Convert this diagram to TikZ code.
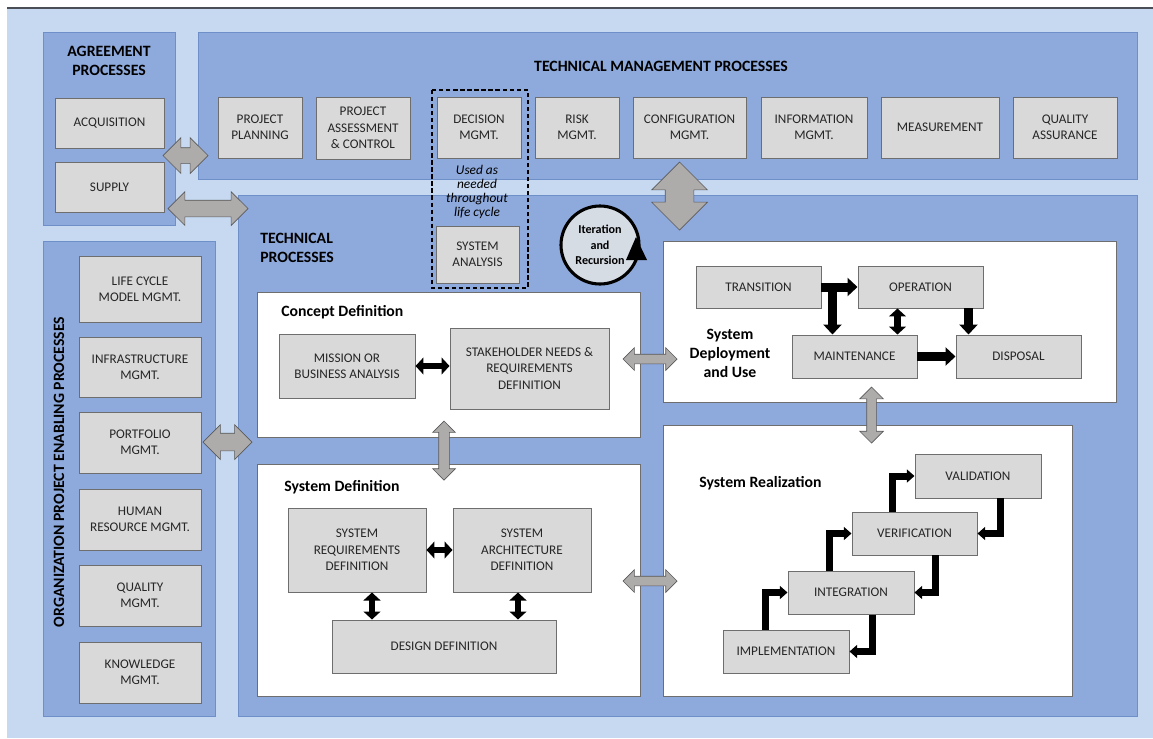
\documentclass[tikz,border=0pt]{standalone}
\usepackage{fontspec}
\setmainfont{Carlito}
\usetikzlibrary{shapes.arrows,arrows.meta}
\newdimen\pix \pix=0.025cm
\definecolor{bglight}{HTML}{C6D9F0}
\definecolor{panelblue}{HTML}{8EA9DB}
\definecolor{paneledge}{HTML}{6F8FC9}
\definecolor{boxgray}{HTML}{D9D9D9}
\definecolor{boxedge}{HTML}{6E6E6E}
\definecolor{arrowgray}{HTML}{AEABAB}
\definecolor{circlefill}{HTML}{D6DCE4}
\definecolor{topline}{HTML}{4A4F57}

\begin{document}
\begin{tikzpicture}[x=0.025cm, y=-0.025cm,
    gbox/.style={draw=boxedge, fill=boxgray, line width=0.7pt, align=center, inner sep=1pt,
        font=\fontsize{9.4}{11.7}\selectfont, text=black!85},
    panel/.style={draw=paneledge, fill=panelblue, line width=0.7pt},
    wpanel/.style={draw=boxedge, fill=white, line width=0.7pt},
    headtxt/.style={font=\fontsize{11.2}{13.5}\selectfont\bfseries, align=center, inner sep=0pt},
    garrow/.style={double arrow, draw=black!65, fill=arrowgray, line width=0.5pt, inner xsep=0pt,
        double arrow tip angle=90},
    barrow/.style={line width=0.225cm, -{Triangle[length=0.25cm,width=0.45cm]}},
    bdarrow/.style={line width=0.17cm, {Triangle[length=0.2cm,width=0.42cm]}-{Triangle[length=0.2cm,width=0.42cm]}},
    sarrow/.style={line width=0.175cm, line join=miter, -{Triangle[length=0.19cm,width=0.32cm]}}]
    \useasboundingbox (0,0) rectangle (1153,738);

    % background
    \fill[bglight] (7,8) rectangle (1153,738);
    \draw[topline, line width=1.4pt] (7,8) -- (1153,8);

    % process groups
    \draw[panel] (43,32) rectangle (175,225);
    \draw[panel] (198,32) rectangle (1137,179);
    \draw[panel] (43,241) rectangle (215,716);
    \draw[panel] (238,195) rectangle (1137,716);

    % Agreement processes
    \node[headtxt] (agrtitle) at (109,61) {AGREEMENT\\PROCESSES};
    \node[gbox, minimum width=109*\pix, minimum height=50*\pix] (acq) at (109.5,123) {ACQUISITION};
    \node[gbox, minimum width=109*\pix, minimum height=50*\pix] (supply) at (109.5,187) {SUPPLY};

    % Technical management processes
    \node[headtxt] (tmtitle) at (661,66) {TECHNICAL MANAGEMENT PROCESSES};
    \node[gbox, minimum width=84*\pix, minimum height=61*\pix] (plan) at (260,127.5) {PROJECT\\PLANNING};
    \node[gbox, minimum width=94*\pix, minimum height=62*\pix] (assess) at (363,128) {PROJECT\\ASSESSMENT\\\& CONTROL};
    \node[gbox, minimum width=84*\pix, minimum height=61*\pix] (decision) at (479,127.5) {DECISION\\MGMT.};
    \node[gbox, minimum width=84*\pix, minimum height=61*\pix] (risk) at (577,127.5) {RISK\\MGMT.};
    \node[gbox, minimum width=113*\pix, minimum height=61*\pix] (config) at (689.5,127.5) {CONFIGURATION\\MGMT.};
    \node[gbox, minimum width=106*\pix, minimum height=61*\pix] (info) at (814,127.5) {INFORMATION\\MGMT.};
    \node[gbox, minimum width=118*\pix, minimum height=61*\pix] (measure) at (940,127.5) {MEASUREMENT};
    \node[gbox, minimum width=104*\pix, minimum height=61*\pix] (qa) at (1065,127.5) {QUALITY\\ASSURANCE};

    % decision / analysis group
    \draw[dash pattern=on 3pt off 2pt, line width=0.8pt] (432,90) rectangle (528,288);
    \node[font=\fontsize{9.5}{9.8}\selectfont\itshape, align=center, inner sep=0pt] (usedtxt) at (477,192) {Used as\\needed\\throughout\\life cycle};
    \node[gbox, minimum width=83*\pix, minimum height=57*\pix] (sysan) at (477.5,254.5) {SYSTEM\\ANALYSIS};

    % Organization project enabling processes
    \node[headtxt, rotate=90] (orgtitle) at (59,472) {ORGANIZATION PROJECT ENABLING PROCESSES};
    \node[gbox, minimum width=122*\pix, minimum height=66*\pix] (lcm) at (140,289) {LIFE CYCLE\\MODEL MGMT.};
    \node[gbox, minimum width=122*\pix, minimum height=60*\pix] (infra) at (140,367) {INFRASTRUCTURE\\MGMT.};
    \node[gbox, minimum width=122*\pix, minimum height=61*\pix] (portf) at (140,442.5) {PORTFOLIO\\MGMT.};
    \node[gbox, minimum width=122*\pix, minimum height=61*\pix] (human) at (140,519.5) {HUMAN\\RESOURCE MGMT.};
    \node[gbox, minimum width=122*\pix, minimum height=61*\pix] (qualm) at (140,595.5) {QUALITY\\MGMT.};
    \node[gbox, minimum width=122*\pix, minimum height=61*\pix] (know) at (140,672.5) {KNOWLEDGE\\MGMT.};

    % Technical processes
    \node[headtxt, align=left, anchor=west] (tptitle) at (260,248) {TECHNICAL\\PROCESSES};
    \node[circle, draw=black, line width=2.2pt, fill=circlefill, minimum size=78*\pix, inner sep=0pt,
        align=center, font=\fontsize{8.6}{11}\selectfont\bfseries] (iter) at (600,245) {Iteration\\and\\Recursion};
    \fill (636,237) -- (647,260) -- (626,260) -- cycle;

    % Concept definition
    \draw[wpanel] (257,292) rectangle (640,437);
    \node[headtxt, anchor=west] (cdtitle) at (281,312) {Concept Definition};
    \node[gbox, minimum width=136*\pix, minimum height=64*\pix] (mission) at (347,366) {MISSION OR\\BUSINESS ANALYSIS};
    \node[gbox, minimum width=159*\pix, minimum height=81*\pix] (stake) at (529.5,368.5) {STAKEHOLDER NEEDS \&\\REQUIREMENTS\\DEFINITION};
    \draw[bdarrow] (mission.east) -- (mission.east -| stake.west);

    % System definition
    \draw[wpanel] (257,464) rectangle (640,696);
    \node[headtxt, anchor=west] (sdtitle) at (284,487) {System Definition};
    \node[gbox, minimum width=138*\pix, minimum height=84*\pix] (sysreq) at (357,550) {SYSTEM\\REQUIREMENTS\\DEFINITION};
    \node[gbox, minimum width=138*\pix, minimum height=84*\pix] (sysarch) at (522,550) {SYSTEM\\ARCHITECTURE\\DEFINITION};
    \node[gbox, minimum width=224*\pix, minimum height=53*\pix] (design) at (444,646.5) {DESIGN DEFINITION};
    \draw[bdarrow] (sysreq.east) -- (sysarch.west);
    \coordinate (rqfoot) at ([xshift=15*\pix]sysreq.south);
    \coordinate (arfoot) at ([xshift=-4*\pix]sysarch.south);
    \draw[bdarrow] (rqfoot) -- (rqfoot |- design.north);
    \draw[bdarrow] (arfoot) -- (arfoot |- design.north);

    % System deployment and use
    \draw[wpanel] (663,241) rectangle (1116,402);
    \node[headtxt] (dutitle) at (730,353) {System\\Deployment\\and Use};
    \node[gbox, minimum width=125*\pix, minimum height=42*\pix] (trans) at (758.5,287) {TRANSITION};
    \node[gbox, minimum width=125*\pix, minimum height=42*\pix] (oper) at (920.5,287) {OPERATION};
    \node[gbox, minimum width=125*\pix, minimum height=43*\pix] (maint) at (854.5,356.5) {MAINTENANCE};
    \node[gbox, minimum width=125*\pix, minimum height=43*\pix] (disp) at (1018.5,356.5) {DISPOSAL};
    \draw[barrow] (trans.east) -- (oper.west);
    \coordinate (tbranch) at ([xshift=11*\pix]trans.east);
    \coordinate (omid) at ([xshift=-23*\pix]oper.south);
    \coordinate (odis) at ([xshift=48*\pix]oper.south);
    \draw[barrow] (tbranch) -- (tbranch |- maint.north);
    \draw[bdarrow] (omid) -- (omid |- maint.north);
    \draw[barrow] (odis) -- (odis |- disp.north);
    \draw[barrow] (maint.east) -- (disp.west);

    % System realization
    \draw[wpanel] (663,425) rectangle (1072,696);
    \node[headtxt, anchor=west] (srtitle) at (699,483) {System Realization};
    \node[gbox, minimum width=126*\pix, minimum height=44*\pix] (valid) at (978,476) {VALIDATION};
    \node[gbox, minimum width=125*\pix, minimum height=43*\pix] (verif) at (914.5,533.5) {VERIFICATION};
    \node[gbox, minimum width=126*\pix, minimum height=43*\pix] (integ) at (851,592.5) {INTEGRATION};
    \node[gbox, minimum width=126*\pix, minimum height=43*\pix] (impl) at (786,651.5) {IMPLEMENTATION};
    \draw[sarrow] ([xshift=-21*\pix]impl.north) |- (integ.west);
    \draw[sarrow] ([xshift=-22*\pix]integ.north) |- (verif.west);
    \draw[sarrow] ([xshift=-22*\pix]verif.north) |- (valid.west);
    \draw[sarrow] ([xshift=22*\pix]valid.south) |- (verif.east);
    \draw[sarrow] ([xshift=21*\pix]verif.south) |- (integ.east);
    \draw[sarrow] ([xshift=21*\pix]integ.south) |- (impl.east);

    % block arrows between groups
    \node[garrow, minimum height=45*\pix, inner ysep=0.1875cm, double arrow head extend=0.25cm] (agrarrow) at (185.5,155.5) {};
    \node[garrow, minimum height=80*\pix, inner ysep=0.2cm, double arrow head extend=0.2125cm] (suparrow) at (208,208.5) {};
    \node[garrow, minimum height=68*\pix, inner ysep=0.35cm, double arrow head extend=0.3375cm, rotate=90] (tmarrow) at (679.5,196) {};
    \node[garrow, minimum height=49*\pix, inner ysep=0.2125cm, double arrow head extend=0.2125cm] (portarrow) at (227.5,442) {};
    \node[garrow, minimum height=54*\pix, inner ysep=0.1125cm, double arrow head extend=0.1625cm] (cdarrow) at (650,359) {};
    \node[garrow, minimum height=59*\pix, inner ysep=0.125cm, double arrow head extend=0.15cm, rotate=90] (csarrow) at (444,450.5) {};
    \node[garrow, minimum height=56*\pix, inner ysep=0.1125cm, double arrow head extend=0.175cm, rotate=90] (drarrow) at (871.5,415) {};
    \node[garrow, minimum height=54*\pix, inner ysep=0.1125cm, double arrow head extend=0.1625cm] (srarrow) at (650,581) {};
\end{tikzpicture}
\end{document}
